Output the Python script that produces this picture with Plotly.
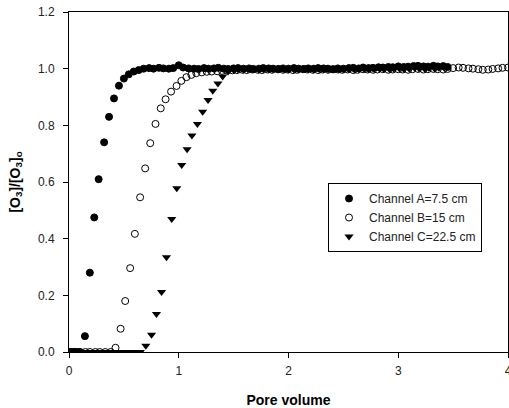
import plotly.graph_objects as go

# ---- Channel A = 7.5 cm (filled circles)
a_x = [0.01, 0.03, 0.05, 0.07, 0.10, 0.145, 0.19, 0.23, 0.27, 0.32,
       0.365, 0.41, 0.455, 0.50, 0.545, 0.59, 0.635,
       0.68, 0.73, 0.77, 0.82, 0.86, 0.91, 0.95, 1.00, 1.04, 1.09,
       1.14, 1.18, 1.23, 1.27, 1.32, 1.36, 1.41, 1.45, 1.50, 1.54,
       1.59, 1.64, 1.68, 1.73, 1.77, 1.82, 1.86, 1.91, 1.95, 2.00,
       2.05, 2.09, 2.14, 2.18, 2.23, 2.27, 2.32, 2.36, 2.41, 2.45,
       2.50, 2.55, 2.59, 2.64, 2.68, 2.73, 2.77, 2.82, 2.86, 2.91,
       2.95, 3.00, 3.05, 3.09, 3.14, 3.18, 3.23, 3.27, 3.32, 3.36,
       3.41, 3.45]
a_y = [0, 0, 0, 0, 0, 0.056, 0.28, 0.475, 0.61, 0.74,
       0.83, 0.895, 0.94, 0.965, 0.98, 0.99, 0.995,
       1.000, 1.002, 1.000, 1.003, 1.001, 1.000, 1.002, 1.012, 1.004, 1.001,
       1.000, 0.999, 1.002, 1.000, 1.001, 1.003, 1.000, 0.999, 1.001, 1.002,
       1.000, 1.001, 0.999, 1.000, 1.002, 1.001, 1.000, 0.999, 1.001, 1.000,
       1.002, 1.000, 0.999, 1.001, 1.000, 1.002, 1.001, 1.000, 0.998, 1.001,
       1.000, 1.002, 1.003, 1.001, 1.004, 1.002, 1.003, 1.005, 1.004, 1.006,
       1.005, 1.008, 1.006, 1.007, 1.009, 1.010, 1.008, 1.007, 1.010, 1.008,
       1.009, 1.006]

# ---- Channel B = 15 cm (open circles)
b_x = [0.01, 0.06, 0.10, 0.15, 0.19, 0.24, 0.28, 0.33, 0.38,
       0.424, 0.47, 0.512, 0.557, 0.60, 0.648, 0.694, 0.74, 0.788, 0.836,
       0.88, 0.93, 0.98, 1.024, 1.07, 1.115, 1.16, 1.21, 1.255, 1.30,
       1.35, 1.395, 1.44,
       1.49, 1.53, 1.58, 1.62, 1.67, 1.72, 1.76, 1.81, 1.85, 1.90,
       1.95, 1.99, 2.04, 2.08, 2.13, 2.17, 2.22, 2.27, 2.31, 2.36,
       2.40, 2.45, 2.49, 2.54, 2.59, 2.63, 2.68, 2.72, 2.77, 2.81,
       2.86, 2.91, 2.95, 3.00, 3.04, 3.09, 3.13, 3.18, 3.23, 3.27,
       3.32, 3.36, 3.41, 3.45, 3.50, 3.55, 3.59, 3.64, 3.68, 3.73,
       3.77, 3.82, 3.86, 3.91, 3.95, 4.00]
b_y = [0, 0, 0, 0, 0, 0, 0, 0, 0,
       0.015, 0.082, 0.18, 0.296, 0.417, 0.546, 0.648, 0.737, 0.805, 0.86,
       0.892, 0.919, 0.939, 0.957, 0.970, 0.978, 0.984, 0.987, 0.989, 0.990,
       0.991, 0.992, 0.993,
       0.994, 0.995, 0.996, 0.995, 0.997, 0.996, 0.995, 0.997, 0.996, 0.998,
       0.996, 0.997, 0.995, 0.996, 0.998, 0.997, 0.996, 0.995, 0.997, 0.996,
       0.998, 0.997, 0.996, 0.997, 0.995, 0.996, 0.998, 0.997, 0.996, 0.997,
       0.998, 0.996, 0.997, 0.998, 0.997, 0.996, 0.998, 0.999, 0.997, 0.998,
       0.999, 0.998, 0.997, 0.999, 1.002, 1.004, 1.003, 1.001, 1.000, 0.998,
       0.996, 0.997, 0.999, 1.001, 1.003, 1.004]

# ---- Channel C = 22.5 cm (filled down-triangles)
c_x = [0.02, 0.065, 0.11, 0.155, 0.20, 0.245, 0.29, 0.335, 0.38, 0.425,
       0.47, 0.515, 0.56, 0.605, 0.65,
       0.70, 0.752, 0.797, 0.843, 0.888, 0.936, 0.982, 1.027, 1.076, 1.12,
       1.17, 1.218, 1.267, 1.31, 1.357, 1.40, 1.45,
       1.50, 1.54, 1.59, 1.63, 1.68, 1.73, 1.77, 1.82, 1.86, 1.91,
       1.96, 2.00, 2.05, 2.09, 2.14, 2.18, 2.23, 2.28, 2.32, 2.37,
       2.41, 2.46, 2.50, 2.55, 2.60, 2.64, 2.69, 2.73, 2.78, 2.83,
       2.87, 2.92, 2.96, 3.01, 3.05, 3.10, 3.15, 3.19, 3.24, 3.28,
       3.33, 3.37, 3.42]
c_y = [0, 0, 0, 0, 0, 0, 0, 0, 0, 0,
       0, 0, 0, 0, 0,
       0.022, 0.061, 0.134, 0.212, 0.334, 0.469, 0.578, 0.66, 0.716, 0.764,
       0.805, 0.848, 0.889, 0.922, 0.948, 0.972, 0.99,
       0.995, 0.997, 0.996, 0.998, 0.997, 0.996, 0.998, 0.997, 0.999, 0.997,
       0.998, 0.996, 0.997, 0.998, 0.999, 0.997, 0.996, 0.998, 0.997, 0.999,
       0.998, 0.997, 0.999, 0.998, 0.997, 0.999, 1.000, 0.998, 0.999, 1.000,
       0.999, 0.998, 1.000, 1.001, 0.999, 1.000, 1.002, 1.001, 1.000, 1.002,
       1.001, 1.003, 1.002]

series_names = ["Channel A=7.5 cm", "Channel B=15 cm", "Channel C=22.5 cm"]
x_ticks = [0, 1, 2, 3, 4]
y_ticks = [0.0, 0.2, 0.4, 0.6, 0.8, 1.0, 1.2]

FONT = "Liberation Sans, Arial, sans-serif"

fig = go.Figure()
fig.add_trace(go.Scatter(
    x=a_x, y=a_y, mode="markers", name=series_names[0],
    marker=dict(symbol="circle", size=7, color="black",
                line=dict(color="black", width=1))))
fig.add_trace(go.Scatter(
    x=b_x, y=b_y, mode="markers", name=series_names[1],
    marker=dict(symbol="circle-open", size=7, color="black",
                line=dict(color="black", width=1))))
fig.add_trace(go.Scatter(
    x=c_x, y=c_y, mode="markers", name=series_names[2],
    marker=dict(symbol="triangle-down", size=8, color="black",
                line=dict(color="black", width=0))))

axis_common = dict(
    showgrid=False, zeroline=False, showline=True, linecolor="black",
    linewidth=1, mirror=True, ticks="outside", ticklen=5, tickcolor="black",
    tickfont=dict(family=FONT, size=12, color="#222"),
    ticklabeloverflow="allow", automargin=False,
)

fig.update_layout(
    width=509, height=408,
    margin=dict(l=69, r=1, t=12, b=56),
    paper_bgcolor="white", plot_bgcolor="white",
    font=dict(family=FONT, color="black"),
    showlegend=True,
    legend=dict(
        x=0.59, y=0.497, xanchor="left", yanchor="top",
        bgcolor="white", bordercolor="black", borderwidth=1,
        font=dict(family=FONT, size=12, color="#222"),
        tracegroupgap=0,
    ),
    xaxis=dict(
        range=[0, 4], tickvals=x_ticks, ticklabelstandoff=3,
        title=dict(text="<b>Pore volume</b>", font=dict(family=FONT, size=14),
                   standoff=17),
        **axis_common),
    yaxis=dict(
        range=[0, 1.2], tickvals=y_ticks, tickformat=".1f",
        ticklabelstandoff=6,
        title=dict(text="<b>[O<sub>3</sub>]/[O<sub>3</sub>]<sub>o</sub></b>",
                   font=dict(family=FONT, size=14), standoff=14),
        **axis_common),
)

fig.write_html("out.html")
